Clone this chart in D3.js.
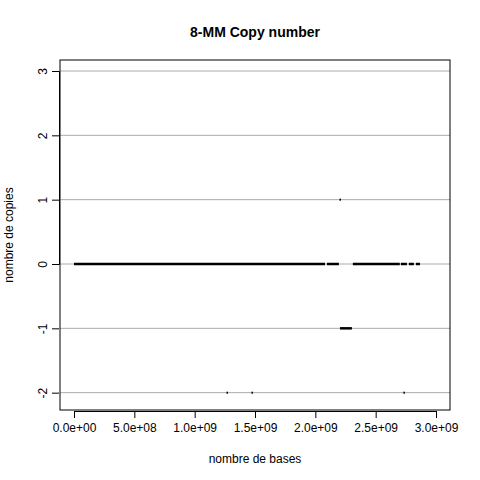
<!DOCTYPE html>
<html>
<body style="margin:0">
<script src="https://d3js.org/d3.v7.min.js"></script>
<script>
// segments of copy number (start, end in bases, value)
const segStart = [0, 2.096e9, 2.204e9, 2.311e9, 2.709e9, 2.775e9, 2.833e9];
const segEnd   = [2.08e9, 2.195e9, 2.303e9, 2.70e9, 2.759e9, 2.817e9, 2.867e9];
const segValue = [0, 0, -1, 0, 0, 0, 0];
// isolated points
const ptX = [1.268e9, 1.475e9, 2.734e9, 2.204e9];
const ptY = [-2, -2, -2, 1];
const xTicks = [0, 5e8, 1e9, 1.5e9, 2e9, 2.5e9, 3e9];
const xTickLabels = ["0.0e+00", "5.0e+08", "1.0e+09", "1.5e+09", "2.0e+09", "2.5e+09", "3.0e+09"];
const yTicks = [-2, -1, 0, 1, 2, 3];
const yTickLabels = ["-2", "-1", "0", "1", "2", "3"];

const W = 480, H = 480;
const L = 60, R = 450, T = 60, B = 410;
const svg = d3.select('body').append('svg').attr('width', W).attr('height', H)
  .style('font-family', 'Arial, Liberation Sans, sans-serif');
svg.append('rect').attr('width', W).attr('height', H).attr('fill', 'white');

const x = d3.scaleLinear().domain([0, 3e9]).range([74, 436]);
const y = d3.scaleLinear().domain([0, 3]).range([264, 71]);

// grid
svg.selectAll('.grid').data(yTicks).enter().append('line')
  .attr('x1', L).attr('x2', R).attr('y1', d => y(d)).attr('y2', d => y(d))
  .attr('stroke', '#aaaaaa').attr('stroke-width', 1);

// segments
svg.selectAll('.seg').data(segStart).enter().append('line')
  .attr('x1', (d, i) => x(d)).attr('x2', (d, i) => x(segEnd[i]))
  .attr('y1', (d, i) => y(segValue[i])).attr('y2', (d, i) => y(segValue[i]))
  .attr('stroke', 'black').attr('stroke-width', 2.5);

// points
svg.selectAll('.pt').data(ptX).enter().append('rect')
  .attr('x', d => x(d) - 0.5).attr('y', (d, i) => y(ptY[i]) - 1)
  .attr('width', 1.5).attr('height', 2).attr('fill', 'black');

// box
svg.append('rect').attr('x', L).attr('y', T).attr('width', R - L).attr('height', B - T)
  .attr('fill', 'none').attr('stroke', 'black');

// x axis
const xAxis = d3.axisBottom(x).tickValues(xTicks).tickFormat((d, i) => xTickLabels[i]).tickSizeOuter(0).tickSize(7).tickPadding(5);
const gx = svg.append('g').attr('transform', `translate(0,${B + 1})`).call(xAxis);
gx.selectAll('text').attr('font-size', 12).attr('fill', 'black');
gx.selectAll('line,path').attr('stroke', 'black');

// y axis
const yAxis = d3.axisLeft(y).tickValues(yTicks).tickFormat((d, i) => yTickLabels[i]).tickSizeOuter(0).tickSize(7);
const gy = svg.append('g').attr('transform', `translate(${L - 1},0)`).call(yAxis);
gy.selectAll('line,path').attr('stroke', 'black');
gy.selectAll('text').attr('font-size', 12).attr('fill', 'black')
  .attr('text-anchor', 'middle').attr('dy', 0)
  .attr('x', 0).attr('y', -12)
  .attr('transform', 'rotate(-90)');

// titles
svg.append('text').attr('x', (L + R) / 2).attr('y', 37).attr('text-anchor', 'middle')
  .attr('font-size', 14).attr('font-weight', 'bold').text('8-MM Copy number');
svg.append('text').attr('x', (L + R) / 2).attr('y', 463).attr('text-anchor', 'middle')
  .attr('font-size', 12).text('nombre de bases');
svg.append('text').attr('transform', `translate(13,${(T + B) / 2}) rotate(-90)`)
  .attr('text-anchor', 'middle').attr('font-size', 12).text('nombre de copies');
</script>
</body>
</html>
